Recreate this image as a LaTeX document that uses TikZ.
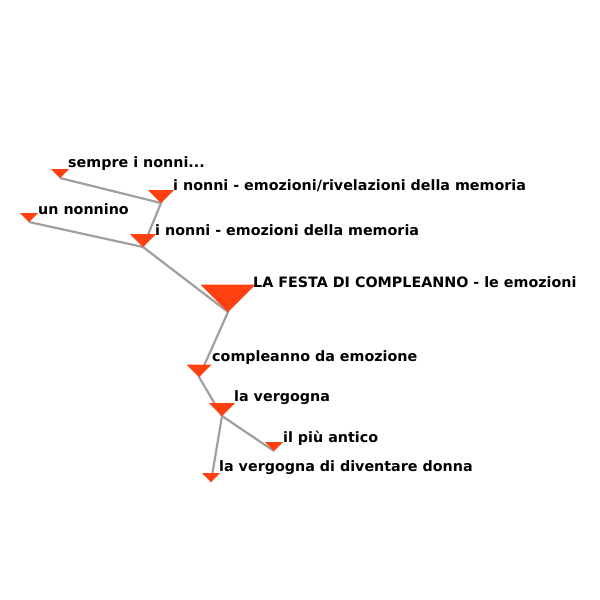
\documentclass[tikz,border=0pt]{standalone}
\usepackage{fontspec}
\setmainfont{DejaVu Sans}
\begin{document}
\begin{tikzpicture}[x=1pt,y=-1pt,
  edge/.style={draw=gray!75,line width=2.2pt},
  lab/.style={anchor=west,inner sep=0pt,font=\bfseries\fontsize{14.3}{16}\selectfont}]
\useasboundingbox (0,0) rectangle (600,600);
\newcommand{\tri}[4]{% name, vx, vy, halfwidth
  \coordinate (#1) at (#2,#3);
  \fill[fill={rgb,255:red,255;green,64;blue,16}] (#2-#4,#3-#4*1.0) -- (#2+#4,#3-#4*1.0) -- (#2,#3) -- cycle;}
\coordinate (s) at (60,178);
\coordinate (r) at (161,203);
\coordinate (u) at (29,222);
\coordinate (m) at (143,247);
\coordinate (f) at (228,312);
\coordinate (c) at (199,377);
\coordinate (v) at (222,416);
\coordinate (p) at (274,451);
\coordinate (d) at (211,482);
\draw[edge] (s) -- (r) -- (m) -- (f) -- (c) -- (v) -- (p);
\draw[edge] (u) -- (m);
\draw[edge] (v) -- (d);
\tri{ts}{60}{178}{9}
\tri{tr}{161}{203}{13}
\tri{tu}{29}{222}{9}
\tri{tm}{143}{247}{13}
\tri{tf}{228}{312}{27.5}
\tri{tc}{199}{377}{12.5}
\tri{tv}{222}{416}{13}
\tri{tp}{274}{451}{9}
\tri{td}{211}{482}{9}
\node[lab] (ls) at (68,164) {sempre i nonni...};
\node[lab] (lr) at (173,186) {i nonni - emozioni/rivelazioni della memoria};
\node[lab] (lu) at (38,209) {un nonnino};
\node[lab] (lm) at (155,230) {i nonni - emozioni della memoria};
\node[lab] (lf) at (253,282) {LA FESTA DI COMPLEANNO - le emozioni};
\node[lab] (lc) at (212,358) {compleanno da emozione};
\node[lab] (lv) at (234,398) {la vergogna};
\node[lab] (lp) at (283,438) {il più antico};
\node[lab] (ld) at (219,468) {la vergogna di diventare donna};
\end{tikzpicture}
\end{document}
